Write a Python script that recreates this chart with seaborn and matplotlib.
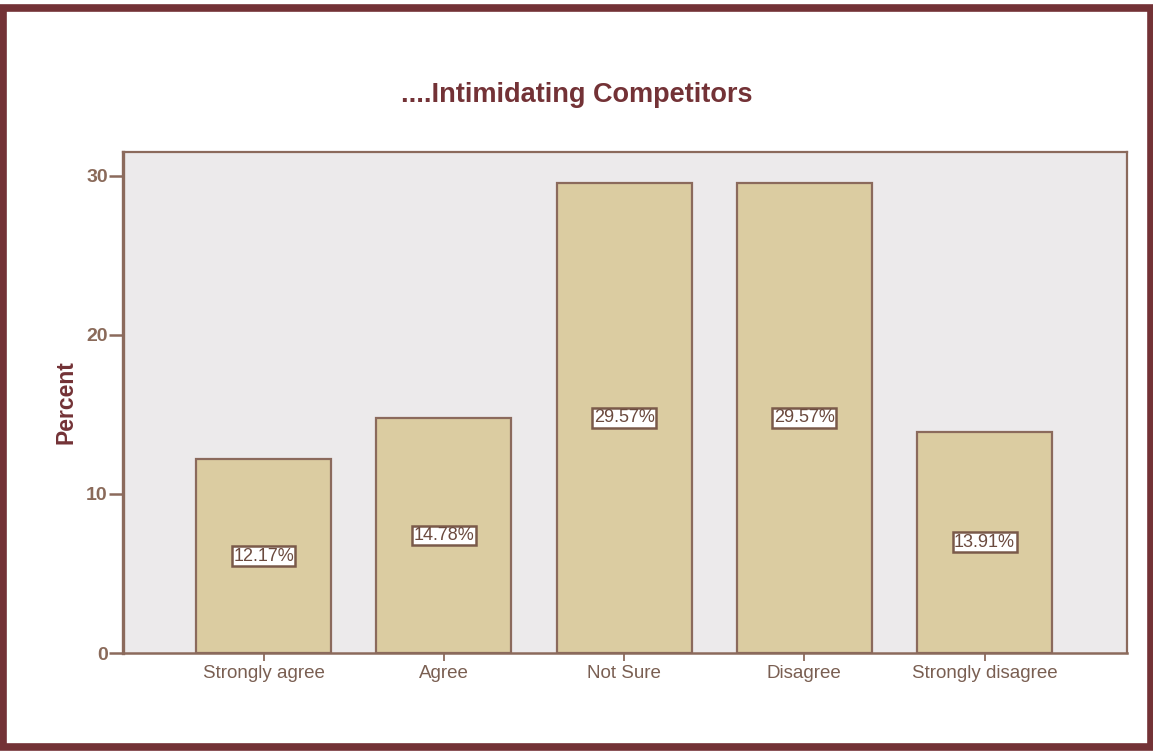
import matplotlib
matplotlib.use("Agg")
import matplotlib.pyplot as plt
import seaborn as sns
import pandas as pd
from matplotlib.patches import Rectangle

categories = ["Strongly agree", "Agree", "Not Sure", "Disagree", "Strongly disagree"]
percents = [12.17, 14.78, 29.57, 29.57, 13.91]
y_ticks = [0, 10, 20, 30]

title_text = "....Intimidating Competitors"
y_label = "Percent"

sns.set_theme(style="white")
plt.rcParams["font.family"] = ["Liberation Sans", "DejaVu Sans"]

W, H = 1153, 751
fig = plt.figure(figsize=(W / 100, H / 100), dpi=100)
fig.patch.set_facecolor("white")

# plot area in pixel terms
left, right, top, bottom = 123, 1127, 152, 653
ax = fig.add_axes([left / W, (H - bottom) / H, (right - left) / W, (bottom - top) / H])

maroon = "#733236"
brown = "#8b6a5c"
tick_col = "#8a6a5a"

df = pd.DataFrame({"category": categories, "percent": percents})
sns.barplot(data=df, x="category", y="percent", ax=ax, color="#dbcca1",
            edgecolor=brown, linewidth=1.6, width=0.75, saturation=1)

ax.set_facecolor("#eceaeb")
ax.set_xlim(-0.78, 4.79)
ax.set_ylim(0, 31.5)
ax.set_yticks(y_ticks)
ax.set_yticklabels([str(t) for t in y_ticks], fontsize=14, fontweight="bold", color=tick_col)
ax.set_xticks(range(len(categories)))
ax.set_xticklabels(categories, fontsize=13.5, color="#7a5f52")
ax.tick_params(axis="y", left=True, direction="out", length=10, width=1.8, color=brown, pad=1)
ax.tick_params(axis="x", bottom=True, direction="out", length=6, width=1.3, color=brown, pad=3)
ax.set_xlabel("")
ax.set_ylabel(y_label, fontsize=16.5, fontweight="bold", color=maroon, labelpad=6)

for side in ["left", "bottom", "top", "right"]:
    ax.spines[side].set_visible(True)
    ax.spines[side].set_color(brown)
ax.spines["left"].set_linewidth(2.4)
ax.spines["bottom"].set_linewidth(1.8)
ax.spines["top"].set_linewidth(1.6)
ax.spines["right"].set_linewidth(1.6)

# value labels at the middle of each bar
for i, v in enumerate(percents):
    ax.text(i, v / 2, f"{v:.2f}%", ha="center", va="center", fontsize=13,
            color="#6b4a3e",
            bbox=dict(boxstyle="square,pad=0.08", facecolor="white",
                      edgecolor="#7a5a4a", linewidth=1.8))

fig.text(577 / W, 1 - 95 / H, title_text, ha="center", va="center",
         fontsize=19.5, fontweight="bold", color=maroon)

# outer frame
fig.patches.append(Rectangle((3 / W, 4.5 / H), (1147.5) / W, (739) / H,
                             transform=fig.transFigure, fill=False,
                             edgecolor=maroon, linewidth=5.5))

fig.savefig("out.png", dpi=100)
